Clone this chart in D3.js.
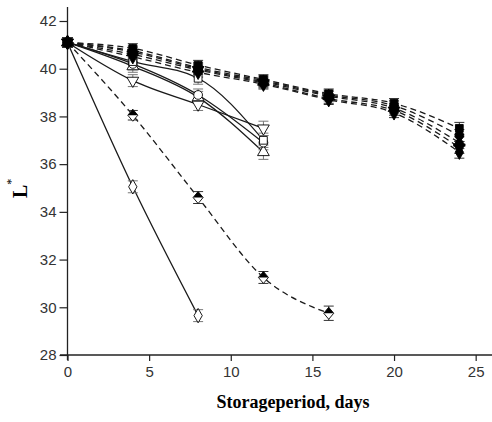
<!DOCTYPE html>
<html>
<head>
<meta charset="utf-8">
<script src="https://cdn.jsdelivr.net/npm/d3@7"></script>
<style>
  body { margin: 0; background: #fff; }
  svg { display: block; }
</style>
</head>
<body>
<svg id="svg"></svg>
<script>
// storage days
const days = [0, 4, 8, 12, 16, 20, 24]
const xTicks = [0, 5, 10, 15, 20, 25]
const yTicks = [28, 30, 32, 34, 36, 38, 40, 42]

// open markers, solid lines
const openSquare = [41.1, 40.3, 39.6, 37.0]
const openCircle = [41.1, 40.2, 38.9, 36.9]
const openTriUp = [41.1, 40.1, 38.8, 36.5]
const openTriDown = [41.1, 39.5, 38.5, 37.5]
const openDiamond = [41.1, 35.05, 29.65]
// half filled, dashed
const halfDiamond = [41.1, 38.05, 34.6, 31.25, 29.75]
// filled markers, dashed lines
const filledSquare = [41.1, 40.85, 40.15, 39.55, 38.95, 38.55, 37.5]
const filledCircle = [41.1, 40.75, 40.05, 39.5, 38.9, 38.45, 37.2]
const filledTriUp = [41.1, 40.7, 40.0, 39.45, 38.85, 38.35, 36.9]
const filledTriDown = [41.1, 40.6, 39.95, 39.4, 38.75, 38.25, 36.7]
const filledDiamond = [41.1, 40.5, 39.85, 39.35, 38.7, 38.15, 36.5]
// standard deviations
const errOpen = [0.2, 0.25, 0.25, 0.3]
const errLong = [0.2, 0.2, 0.25, 0.25, 0.3]
const errFilled = [0.2, 0.2, 0.2, 0.2, 0.2, 0.2, 0.25]

const series = [
  { values: openDiamond, err: errOpen, dash: false, symbol: d3.symbolDiamond, fill: "#fff" },
  { values: openTriDown, err: errOpen, dash: false, symbol: "down", fill: "#fff" },
  { values: openTriUp, err: errOpen, dash: false, symbol: d3.symbolTriangle, fill: "#fff" },
  { values: openCircle, err: errOpen, dash: false, symbol: d3.symbolCircle, fill: "#fff" },
  { values: openSquare, err: errOpen, dash: false, symbol: d3.symbolSquare, fill: "#fff" },
  { values: halfDiamond, err: errLong, dash: true, symbol: "half", fill: "#000" },
  { values: filledDiamond, err: errFilled, dash: true, symbol: d3.symbolDiamond, fill: "#000" },
  { values: filledTriDown, err: errFilled, dash: true, symbol: "down", fill: "#000" },
  { values: filledTriUp, err: errFilled, dash: true, symbol: d3.symbolTriangle, fill: "#000" },
  { values: filledCircle, err: errFilled, dash: true, symbol: d3.symbolCircle, fill: "#000" },
  { values: filledSquare, err: errFilled, dash: true, symbol: d3.symbolSquare, fill: "#000" }
]

const svg = d3.select("#svg").attr("width", 492).attr("height", 422)

const x = d3.scaleLinear().domain([0, 26]).range([67.5, 492])
const y = d3.scaleLinear().domain([28, 42]).range([355, 21])

// axes
svg.append("line").attr("x1", 60).attr("x2", 492).attr("y1", 355).attr("y2", 355)
  .attr("stroke", "#222").attr("stroke-width", 1.3)
svg.append("line").attr("x1", 67.5).attr("x2", 67.5).attr("y1", 7).attr("y2", 360)
  .attr("stroke", "#222").attr("stroke-width", 1.3)

const xAxis = svg.append("g").attr("transform", "translate(0,355)")
  .call(d3.axisBottom(x).tickValues(xTicks).tickSize(6).tickPadding(5))
const yAxis = svg.append("g").attr("transform", "translate(67.5,0)")
  .call(d3.axisLeft(y).tickValues(yTicks).tickSize(8).tickPadding(3))

;[xAxis, yAxis].forEach(a => {
  a.select(".domain").remove()
  a.selectAll("line").attr("stroke", "#222").attr("stroke-width", 1.2)
  a.selectAll("text").attr("font-family", "Liberation Sans, Arial, sans-serif")
    .attr("font-size", 15).attr("fill", "#333")
})

// titles
svg.append("text").attr("x", 293).attr("y", 408).attr("text-anchor", "middle")
  .attr("font-family", "Liberation Serif, Times New Roman, serif")
  .attr("font-weight", "bold").attr("font-size", 18).text("Storageperiod, days")

const yTitle = svg.append("text").attr("transform", "translate(27,198) rotate(-90)")
  .attr("font-family", "Liberation Serif, Times New Roman, serif")
  .attr("font-weight", "bold").attr("font-size", 20)
yTitle.append("tspan").text("L")
yTitle.append("tspan").attr("dy", -12).attr("font-size", 12).attr("font-weight", "normal").text("*")

const line = d3.line()
  .x((d, i) => x(days[i]))
  .y(d => y(d))
  .curve(d3.curveMonotoneX)

const lines = svg.append("g")
lines.selectAll("path")
  .data(series)
  .enter()
  .append("path")
  .attr("d", d => line(d.values))
  .attr("fill", "none")
  .attr("stroke", "#1a1a1a")
  .attr("stroke-width", 1.3)
  .attr("stroke-dasharray", d => d.dash ? "6,4" : null)

// error bars
const bars = svg.append("g")
series.forEach(s => {
  const g = bars.append("g").attr("stroke", s.fill === "#000" ? "#333" : "#777").attr("stroke-width", 1)
  s.values.forEach((v, i) => {
    const cx = x(days[i])
    const e = s.err[i]
    g.append("line").attr("x1", cx).attr("x2", cx).attr("y1", y(v + e)).attr("y2", y(v - e))
    g.append("line").attr("x1", cx - 5).attr("x2", cx + 5).attr("y1", y(v + e)).attr("y2", y(v + e))
    g.append("line").attr("x1", cx - 5).attr("x2", cx + 5).attr("y1", y(v - e)).attr("y2", y(v - e))
  })
})

// markers
const markers = svg.append("g")
series.forEach(s => {
  const g = markers.selectAll(null)
    .data(s.values)
    .enter()
    .append("g")
    .attr("transform", (d, i) => `translate(${x(days[i])},${y(d)})`)
  if (s.symbol === "half") {
    g.append("path").attr("d", "M-5,0L0,-6L5,0L0,6Z").attr("fill", "#fff").attr("stroke", "#000").attr("stroke-width", 0.9)
    g.append("path").attr("d", "M-5,0L0,-6L5,0Z").attr("fill", "#000")
  } else if (s.symbol === "down") {
    g.append("path").attr("d", d3.symbol(d3.symbolTriangle, 60)).attr("transform", "rotate(180)")
      .attr("fill", s.fill).attr("stroke", "#000").attr("stroke-width", 0.9)
  } else {
    g.append("path").attr("d", d3.symbol(s.symbol, 60))
      .attr("fill", s.fill).attr("stroke", "#000").attr("stroke-width", 0.9)
  }
})
</script>
</body>
</html>
